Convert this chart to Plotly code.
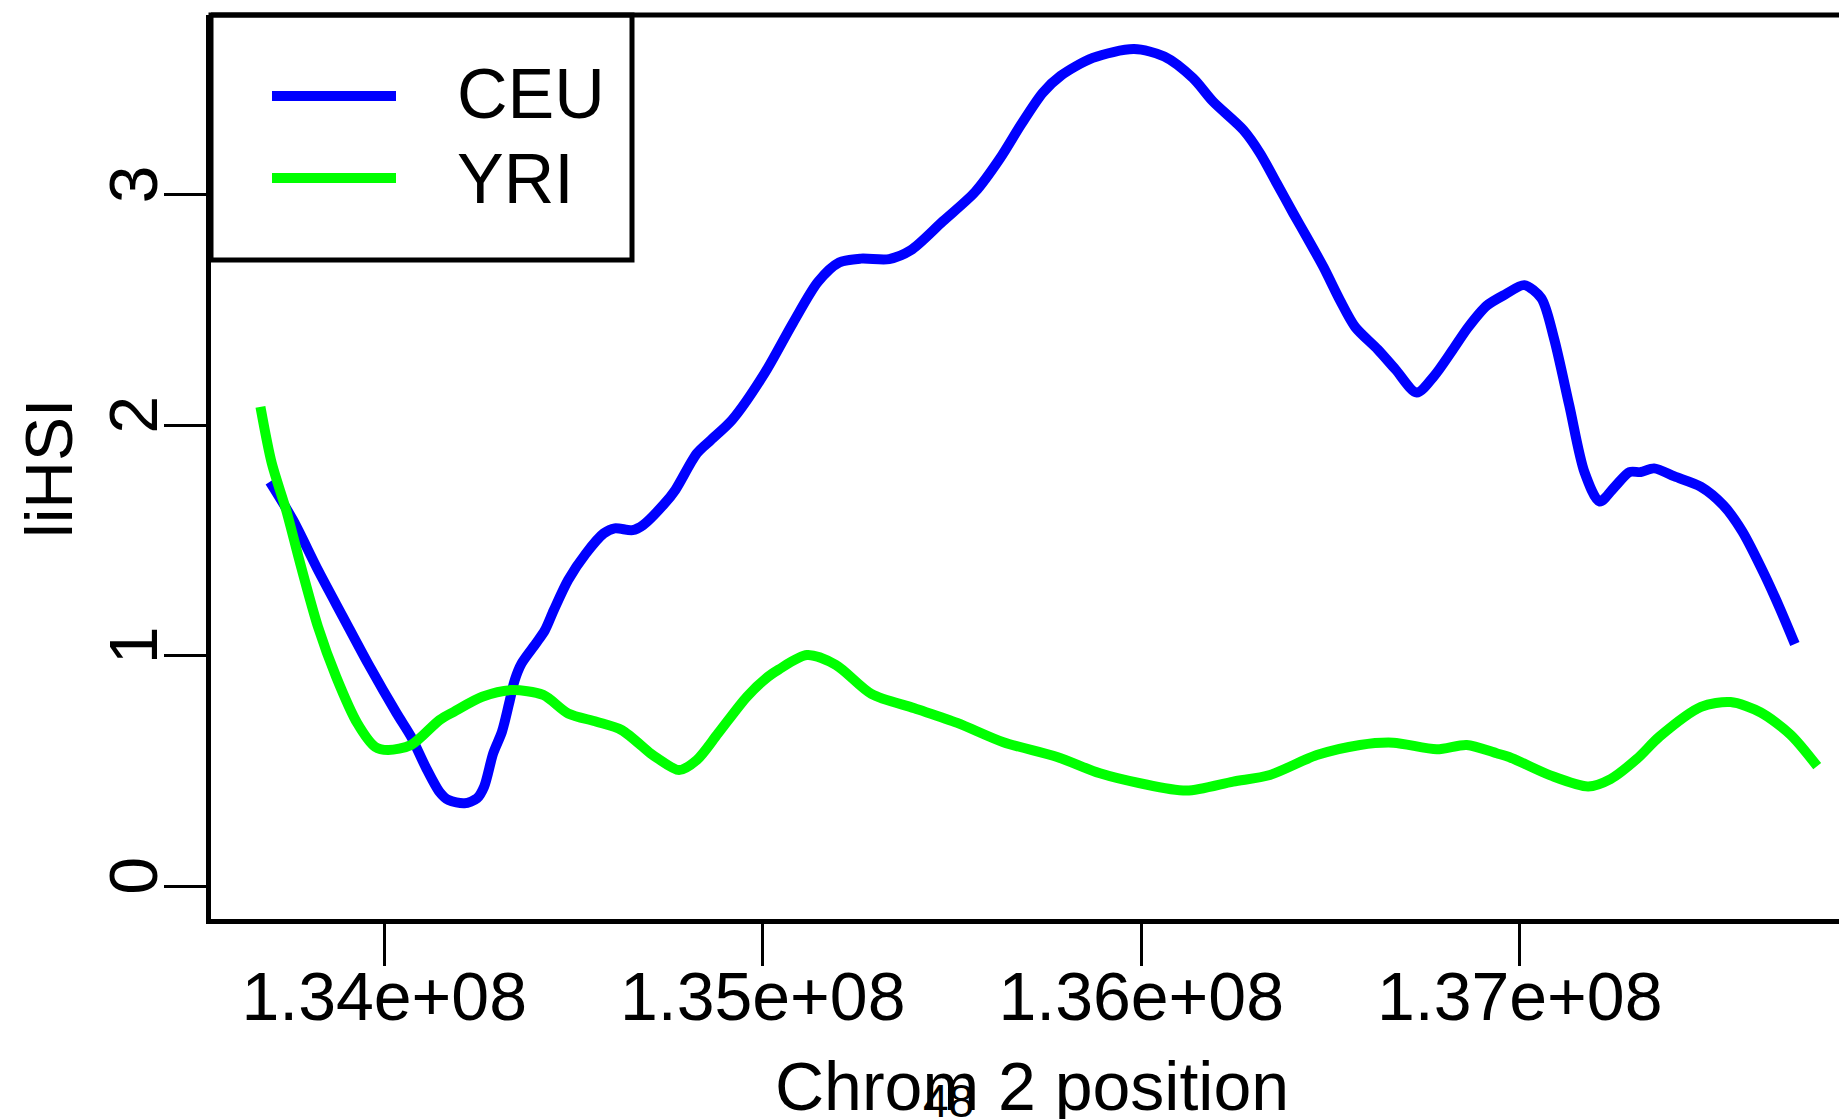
import plotly.graph_objects as go

# Smoothed |iHS| along chromosome 2 (positions in Mb)
ceu_pos_mb = [133.698, 133.759, 133.825, 133.891, 133.957, 134.033, 134.071, 134.109, 134.146, 134.170,
              134.212, 134.245, 134.264, 134.288, 134.311, 134.330, 134.345, 134.363, 134.401, 134.425,
              134.448, 134.486, 134.533, 134.580, 134.609, 134.656, 134.684, 134.741, 134.769, 134.826,
              134.863, 134.919, 135.004, 135.080, 135.146, 135.202, 135.259, 135.334, 135.391, 135.476,
              135.561, 135.627, 135.683, 135.740, 135.787, 135.872, 135.981, 136.061, 136.137, 136.190,
              136.270, 136.314, 136.358, 136.402, 136.437, 136.481, 136.525, 136.565, 136.625, 136.672,
              136.728, 136.774, 136.823, 136.863, 136.913, 136.962, 137.012, 137.057, 137.091, 137.131,
              137.171, 137.211, 137.251, 137.290, 137.320, 137.355, 137.409, 137.479, 137.538, 137.588,
              137.648, 137.688, 137.727]
ceu_ihs = [1.754, 1.588, 1.371, 1.168, 0.966, 0.749, 0.648, 0.518, 0.409, 0.373,
           0.359, 0.380, 0.431, 0.576, 0.669, 0.793, 0.894, 0.966, 1.053, 1.111,
           1.197, 1.328, 1.443, 1.530, 1.552, 1.544, 1.566, 1.660, 1.718, 1.877,
           1.935, 2.022, 2.222, 2.443, 2.621, 2.705, 2.722, 2.720, 2.758, 2.884,
           3.011, 3.157, 3.305, 3.442, 3.515, 3.593, 3.631, 3.599, 3.505, 3.403,
           3.280, 3.179, 3.049, 2.918, 2.817, 2.687, 2.542, 2.426, 2.328, 2.241,
           2.141, 2.213, 2.326, 2.422, 2.518, 2.567, 2.607, 2.551, 2.374, 2.085,
           1.796, 1.668, 1.732, 1.796, 1.796, 1.812, 1.777, 1.732, 1.652, 1.539,
           1.347, 1.202, 1.050]

yri_pos_mb = [133.673, 133.703, 133.741, 133.778, 133.825, 133.873, 133.929, 133.976, 134.010, 134.071,
              134.146, 134.184, 134.259, 134.335, 134.420, 134.486, 134.561, 134.627, 134.703, 134.722,
              134.779, 134.826, 134.882, 134.958, 135.014, 135.042, 135.117, 135.193, 135.287, 135.401,
              135.514, 135.636, 135.778, 135.891, 135.997, 136.120, 136.243, 136.340, 136.464, 136.578,
              136.666, 136.781, 136.860, 136.939, 136.972, 137.081, 137.181, 137.240, 137.310, 137.370,
              137.479, 137.557, 137.637, 137.716, 137.786]
yri_ihs = [2.079, 1.834, 1.631, 1.400, 1.125, 0.908, 0.706, 0.604, 0.590, 0.612,
           0.720, 0.756, 0.821, 0.850, 0.829, 0.749, 0.713, 0.677, 0.576, 0.554,
           0.503, 0.547, 0.662, 0.821, 0.908, 0.939, 1.002, 0.960, 0.834, 0.771,
           0.708, 0.624, 0.560, 0.489, 0.446, 0.414, 0.453, 0.482, 0.568, 0.612,
           0.622, 0.593, 0.612, 0.576, 0.560, 0.480, 0.432, 0.464, 0.552, 0.649,
           0.777, 0.798, 0.753, 0.656, 0.520]

series_names = ["CEU", "YRI"]
series_colors = ["#0000FF", "#00FF00"]

x_tick_vals = [1.34e8, 1.35e8, 1.36e8, 1.37e8]
x_tick_text = ["1.34e+08", "1.35e+08", "1.36e+08", "1.37e+08"]
y_tick_vals = [0, 1, 2, 3]
y_tick_text = ["0", "1", "2", "3"]

FONT = "Liberation Sans, Arial, Helvetica, sans-serif"
W, H = 1839, 1119
L, T, B, R = 211, 15, 200, 0
PW, PH = W - L - R, H - T - B


def px(x):
    return (x - L) / PW


def py(y):
    return (H - B - y) / PH


fig = go.Figure()
for name, pos, vals, col in [
    (series_names[0], ceu_pos_mb, ceu_ihs, series_colors[0]),
    (series_names[1], yri_pos_mb, yri_ihs, series_colors[1]),
]:
    fig.add_trace(go.Scatter(
        x=[p * 1e6 for p in pos], y=vals, mode="lines", name=name,
        line=dict(color=col, width=10, shape="spline", smoothing=0.8),
        showlegend=False,
    ))

axis_common = dict(
    showgrid=False, zeroline=False, showline=True, linecolor="black", linewidth=5,
    ticks="outside", ticklen=42, tickwidth=3, tickcolor="black",
    tickfont=dict(family=FONT, size=68, color="black"),
)
fig.update_xaxes(range=[133.5424e6, 137.8436e6], tickvals=x_tick_vals, ticktext=x_tick_text,
                 ticklabelstandoff=-28, **axis_common)
fig.update_yaxes(range=[-0.143, 3.779], tickvals=y_tick_vals, ticktext=y_tick_text,
                 tickangle=-90, ticklabelstandoff=-20, **axis_common)

shapes = [
    # top edge of the plotting frame
    dict(type="line", xref="paper", yref="paper", x0=0, x1=1, y0=1, y1=1,
         line=dict(color="black", width=5)),
    # legend box
    dict(type="rect", xref="paper", yref="paper", x0=px(211), x1=px(632), y0=py(260), y1=py(15),
         line=dict(color="black", width=5), fillcolor="rgba(0,0,0,0)"),
]
annotations = []
for i, (name, col) in enumerate(zip(series_names, series_colors)):
    ly = [96, 178][i]
    ty = [94, 179][i]
    shapes.append(dict(type="line", xref="paper", yref="paper", x0=px(272), x1=px(396),
                       y0=py(ly), y1=py(ly), line=dict(color=col, width=10)))
    annotations.append(dict(text=name, xref="paper", yref="paper", x=px(455), y=py(ty),
                            xanchor="left", yanchor="middle", showarrow=False,
                            font=dict(family=FONT, size=70, color="black")))

annotations += [
    dict(text="liHSI", xref="paper", yref="paper", x=px(49), y=py(469), textangle=-90,
         xanchor="center", yanchor="middle", showarrow=False,
         font=dict(family=FONT, size=66, color="black")),
    dict(text="Chrom 2 position", xref="paper", yref="paper", x=px(1032), y=py(1086),
         xanchor="center", yanchor="middle", showarrow=False,
         font=dict(family=FONT, size=68, color="black")),
    dict(text="48", xref="paper", yref="paper", x=px(948), y=py(1101),
         xanchor="center", yanchor="middle", showarrow=False,
         font=dict(family=FONT, size=46, color="black")),
]

fig.update_layout(
    width=W, height=H, margin=dict(l=L, r=R, t=T, b=B, pad=0),
    paper_bgcolor="white", plot_bgcolor="white",
    shapes=shapes, annotations=annotations,
    font=dict(family=FONT, color="black"),
)

fig.write_html("out.html")
